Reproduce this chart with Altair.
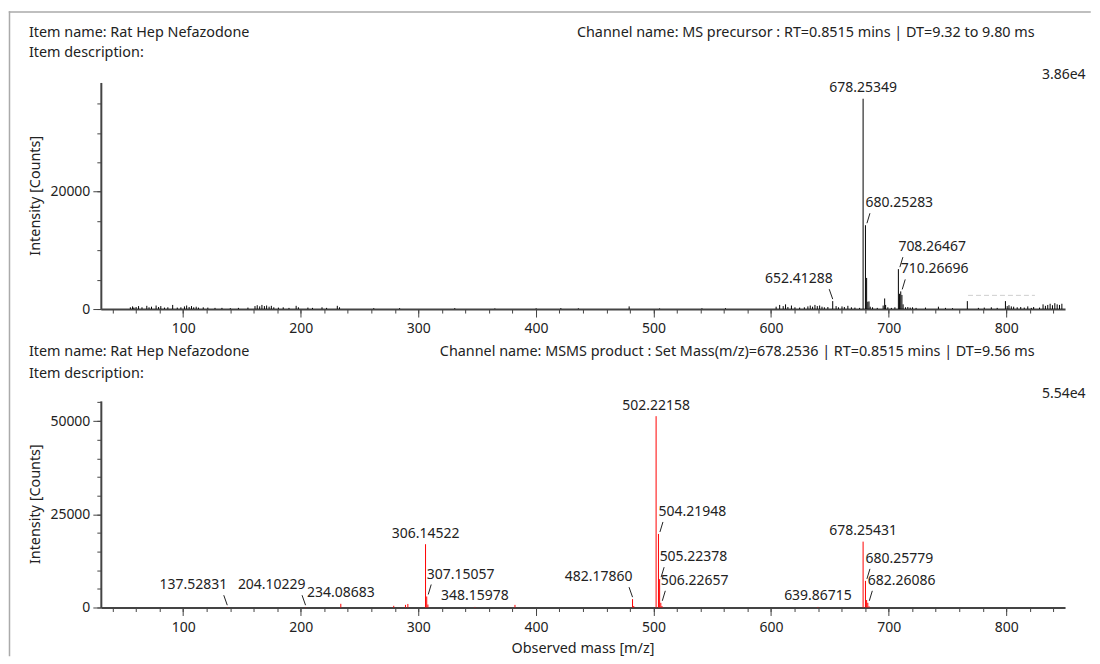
import altair as alt
import pandas as pd

# ---------------------------------------------------------------- data
X_DOMAIN = [30, 850]
TOP_YMAX = 38600
BOT_YMAX = 55400

# MS precursor spectrum: unlabelled centroid peaks (m/z, intensity)
top_noise = [
    (55.1, 300), (57.0, 450), (58.1, 250), (60.0, 350), (62.1, 500), (65.0, 300),
    (69.1, 550), (71.0, 300), (73.1, 400), (77.0, 600), (79.1, 350), (81.0, 500),
    (84.1, 250), (87.0, 300), (91.1, 700), (95.0, 250), (98.1, 300), (101.1, 450),
    (103.0, 600), (105.1, 350), (107.1, 500), (109.0, 300), (111.1, 400), (113.0, 250),
    (117.1, 300), (121.0, 250), (127.1, 200), (133.0, 200), (140.1, 150), (147.0, 200),
    (155.1, 250), (161.1, 500), (163.0, 650), (165.1, 450), (167.0, 700), (169.1, 500),
    (171.0, 600), (173.1, 400), (175.0, 550), (177.1, 300), (181.0, 250), (185.1, 300),
    (190.0, 200), (196.1, 550), (198.0, 300), (206.1, 250), (210.0, 200), (218.1, 300),
    (222.0, 200), (231.1, 550), (233.0, 300), (262.1, 150), (284.1, 150), (331.0, 150),
    (365.1, 100), (400.2, 120), (421.2, 150), (436.1, 120), (479.3, 450), (505.2, 100),
    (541.2, 120), (561.2, 150),
    (604.3, 400), (607.3, 700), (610.3, 500), (612.3, 800), (614.3, 350), (617.3, 600),
    (620.3, 300), (624.3, 250), (628.3, 300), (631.3, 450), (633.3, 600), (635.3, 400),
    (637.3, 700), (639.3, 500), (641.3, 600), (643.3, 400), (645.3, 300), (648.3, 350),
    (655.3, 500), (657.3, 300), (660.3, 450), (662.3, 350), (665.3, 550), (668.3, 300),
    (671.3, 250), (675.3, 200),
    (681.26, 5300), (682.26, 1250), (683.27, 1300), (684.3, 400), (686.3, 300), (690.3, 200),
    (695.3, 600), (696.6, 1800), (697.4, 700), (699.3, 300), (702.3, 200), (705.3, 300),
    (709.27, 2600), (711.27, 2400), (712.27, 800), (714.3, 300), (716.3, 350), (718.3, 250),
    (720.3, 300), (723.3, 200), (731.3, 250), (742.3, 400), (748.3, 200), (754.3, 150),
    (766.9, 1350), (776.3, 200), (781.3, 250), (787.3, 300), (792.3, 200), (799.3, 1350),
    (800.8, 500), (802.3, 650), (804.3, 450), (806.3, 400), (809.3, 300), (812.3, 350),
    (815.3, 250), (818.3, 450), (821.3, 200), (823.3, 350), (828.3, 250), (831.3, 800),
    (833.3, 550), (835.3, 700), (837.3, 900), (839.3, 650), (841.3, 1000), (843.3, 800),
    (845.3, 700), (847.3, 900),
]
# labelled precursor peaks
top_label_mz = [652.41288, 678.25349, 680.25283, 708.26467, 710.26696]
top_label_int = [1350, 35830, 14280, 6800, 3010]
top_label_side = ["l", "c", "r", "r", "r"]
# partly hidden label in the precursor panel (m/z start, m/z end, intensity)
top_hidden_label = [767.5, 824.4, 2330]

# MSMS product spectrum: unlabelled peaks
bot_noise = [
    (279.1, 450), (289.1, 700), (291.1, 950), (308.15, 800), (382.2, 700),
    (483.2, 400), (507.2, 400), (681.26, 2000), (683.3, 300),
]
bot_label_mz = [137.52831, 204.10229, 234.08683, 306.14522, 307.15057, 348.15978,
                482.17860, 502.22158, 504.21948, 505.22378, 506.22657, 639.86715,
                678.25431, 680.25779, 682.26086]
bot_label_int = [80, 80, 990, 16970, 2950, 150, 2240, 51300, 19720, 7600, 1260, 150,
                 17660, 7140, 1260]
bot_label_side = ["l", "l", "c", "c", "r", "c", "l", "c", "r", "r", "r", "c", "c", "r", "r"]

x_major_ticks = list(range(100, 801, 100))
x_minor_ticks = list(range(40, 841, 20))
top_y_major_ticks = [0, 20000]
top_y_minor_ticks = list(range(0, 35001, 5000))
bot_y_major_ticks = [0, 25000, 50000]
bot_y_minor_ticks = list(range(0, 55001, 5000))

item_name = "Item name: Rat Hep Nefazodone"
item_desc = "Item description:"
top_channel = "Channel name: MS precursor : RT=0.8515 mins | DT=9.32 to 9.80 ms"
bot_channel = "Channel name: MSMS product : Set Mass(m/z)=678.2536 | RT=0.8515 mins | DT=9.56 ms"
top_max_text = "3.86e4"
bot_max_text = "5.54e4"
y_title = "Intensity [Counts]"
x_title = "Observed mass [m/z]"

# ---------------------------------------------------------------- layout / style
W, H = 966, 526
TOP_RANGE = [227, 0]
BOT_RANGE = [526, 319]
FONT = "Noto Sans"
FS = 14
FS_HEAD = 14.4
TXT = "#222222"
AX = "#444444"
FRAME = "#aaaaaa"
KX = W / (X_DOMAIN[1] - X_DOMAIN[0])


def panel(noise, lmz, lint, lside, ymax, yrange, color, ymajor, yminor, xoffset, extra=None):
    ky = (yrange[0] - yrange[1]) / ymax
    peaks = pd.DataFrame(noise + list(zip(lmz, lint)), columns=["mz", "inten"])
    labels = pd.DataFrame({"mz": lmz, "inten": lint, "side": lside,
                           "txt": [f"{m:.5f}" for m in lmz]})
    rows = []
    for m, i, s in zip(lmz, lint, lside):
        if s == "r":
            rows.append(dict(x1=m + 1.5 / KX, x2=m + 4.5 / KX, y1=i + 2 / ky, y2=i + 12 / ky))
        elif s == "l":
            rows.append(dict(x1=m, x2=m - 3.5 / KX, y1=i + 2 / ky, y2=i + 12 / ky))
    leaders = pd.DataFrame(rows)

    xs = alt.Scale(domain=X_DOMAIN, nice=False, zero=False)
    ys = alt.Scale(domain=[0, ymax], range=yrange, nice=False)
    x_major = alt.Axis(values=x_major_ticks, orient="bottom", offset=xoffset, title=None,
                       grid=False, format="d", labelOverlap=False, labelFlush=False,
                       tickSize=8, labelPadding=5)
    y_major = alt.Axis(values=ymajor, orient="left", title=None, grid=False, format="d",
                       labelOverlap=False, tickSize=8, labelPadding=3)
    x_minor = alt.Axis(values=x_minor_ticks, orient="bottom", offset=xoffset, title=None,
                       grid=False, labels=False, domain=False, tickSize=4)
    y_minor = alt.Axis(values=yminor, orient="left", title=None, grid=False, labels=False,
                       domain=False, tickSize=4)

    layers = [
        alt.Chart(peaks).mark_rule(color=color, strokeWidth=1).encode(
            x=alt.X("mz:Q", scale=xs, axis=x_major),
            y=alt.Y("inten:Q", scale=ys, axis=y_major),
            y2=alt.datum(0),
        ),
        alt.Chart(leaders).mark_rule(color=TXT, strokeWidth=1).encode(
            x=alt.X("x1:Q", scale=xs, axis=x_minor), x2="x2:Q",
            y=alt.Y("y1:Q", scale=ys, axis=y_minor), y2="y2:Q",
        ),
    ]
    for side, align, dy in (("c", "center", -10.5), ("r", "left", -22), ("l", "right", -22)):
        sub = labels[labels.side == side]
        if len(sub):
            layers.append(
                alt.Chart(sub).mark_text(align=align, baseline="middle", dy=dy, font=FONT,
                                         fontSize=FS, color=TXT).encode(
                    x=alt.X("mz:Q", scale=xs, axis=None),
                    y=alt.Y("inten:Q", scale=ys, axis=None),
                    text="txt:N",
                )
            )
    if extra is not None:
        ex = pd.DataFrame({"a": [extra[0]], "b": [extra[1]], "v": [extra[2]]})
        layers.append(
            alt.Chart(ex).mark_rule(color="#cfcfcf", strokeWidth=1, strokeDash=[5, 3]).encode(
                x=alt.X("a:Q", scale=xs, axis=None), x2="b:Q",
                y=alt.Y("v:Q", scale=ys, axis=None),
            )
        )
    return alt.layer(*layers).resolve_axis(x="independent", y="independent")


top_panel = panel(top_noise, top_label_mz, top_label_int, top_label_side, TOP_YMAX, TOP_RANGE,
                  "#000000", top_y_major_ticks, top_y_minor_ticks, -(H - TOP_RANGE[0]),
                  extra=top_hidden_label)
bot_panel = panel(bot_noise, bot_label_mz, bot_label_int, bot_label_side, BOT_YMAX, BOT_RANGE,
                  "#ff0000", bot_y_major_ticks, bot_y_minor_ticks, 0)

one = pd.DataFrame({"k": [0]})


def note(text, x, y, align="left", angle=0, size=FS_HEAD):
    return alt.Chart(one).mark_text(text=text, align=align, baseline="middle", font=FONT,
                                    fontSize=size, color=TXT, angle=angle).encode(
        x=alt.value(x), y=alt.value(y))


notes = [
    note(item_name, -72, -49.5),
    note(item_desc, -72, -29.5),
    note(top_channel, 935.5, -49.5, "right"),
    note(top_max_text, 986.5, -7.5, "right", size=FS),
    note(item_name, -72, 270.5),
    note(item_desc, -72, 292),
    note(bot_channel, 935.5, 270.5, "right"),
    note(bot_max_text, 986.5, 312, "right", size=FS),
    note(y_title, -65, (TOP_RANGE[0] + TOP_RANGE[1]) / 2, "center", 270),
    note(y_title, -65, (BOT_RANGE[0] + BOT_RANGE[1]) / 2, "center", 270),
    note(x_title, W / 2, 568, "center"),
]

frame = [
    alt.Chart(one).mark_rule(color=FRAME, strokeWidth=1.5, strokeCap="square").encode(
        x=alt.value(-91.5), x2=alt.value(991), y=alt.value(-70.5)),
    alt.Chart(one).mark_rule(color=FRAME, strokeWidth=1.5, strokeCap="square").encode(
        x=alt.value(-91.5), y=alt.value(-70.5), y2=alt.value(574)),
]

chart = (
    alt.layer(top_panel, bot_panel, *notes, *frame)
    .resolve_scale(x="independent", y="independent")
    .resolve_axis(x="independent", y="independent")
    .properties(width=W, height=H, padding={"left": 0, "top": 2, "right": 0, "bottom": 0},
                background="white")
    .configure_view(stroke=None)
    .configure_axis(domainColor=AX, domainWidth=2, tickColor=AX, tickWidth=1,
                    labelFont=FONT, labelFontSize=FS, labelColor=TXT)
)

chart.save("out.html", embed_options={"renderer": "svg", "actions": False})
